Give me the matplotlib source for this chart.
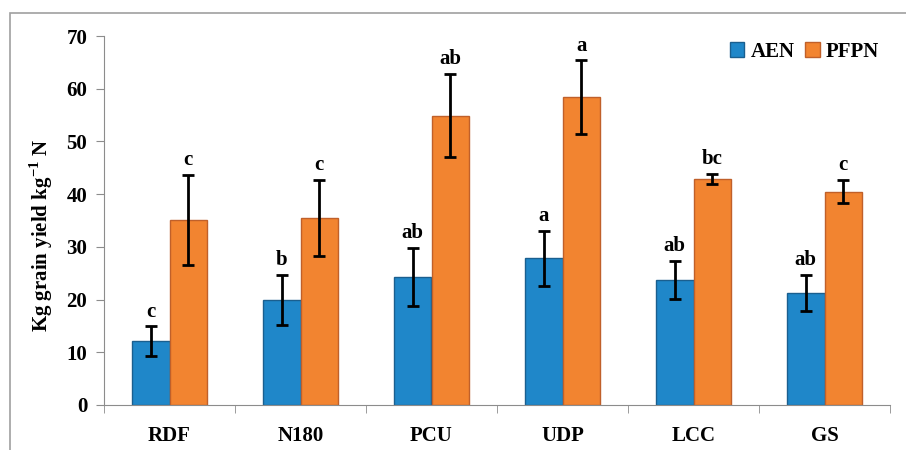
import numpy as np
import matplotlib.pyplot as plt
from matplotlib.patches import Rectangle

plt.rcParams['font.family'] = ['Liberation Serif', 'DejaVu Serif']
plt.rcParams['font.weight'] = 'bold'
plt.rcParams['mathtext.fontset'] = 'custom'
plt.rcParams['mathtext.rm'] = 'Liberation Serif:bold'
plt.rcParams['mathtext.bf'] = 'Liberation Serif:bold'

treatments = ['RDF', 'N180', 'PCU', 'UDP', 'LCC', 'GS']
aen = [12.1, 19.9, 24.3, 27.8, 23.7, 21.3]
aen_err = [2.8, 4.8, 5.5, 5.2, 3.6, 3.4]
aen_letters = ['c', 'b', 'ab', 'a', 'ab', 'ab']
pfpn = [35.1, 35.5, 54.9, 58.4, 42.9, 40.5]
pfpn_err = [8.5, 7.2, 7.9, 7.0, 1.0, 2.2]
pfpn_letters = ['c', 'c', 'ab', 'a', 'bc', 'c']

blue = '#1F87C9'
orange = '#F28430'
gray = '#8C8C8C'

fig = plt.figure(figsize=(9.06, 4.5), dpi=100)
# outer chart frame, only its left and top edges fall inside the picture
fig.patches.append(Rectangle((10/906, -0.5), 2, 1.5 - 13/450, transform=fig.transFigure,
                             fill=False, edgecolor='#A0A0A0', linewidth=1.2))
ax = fig.add_axes([104/906, 45/450, 786/906, 369/450])

x = np.arange(len(treatments))
w = 0.285
ax.bar(x - w/2, aen, w, color=blue, edgecolor='#1A5F8F', linewidth=1, label='AEN', zorder=2)
ax.bar(x + w/2, pfpn, w, color=orange, edgecolor='#C0602A', linewidth=1, label='PFPN', zorder=2)
ax.errorbar(x - w/2, aen, yerr=aen_err, fmt='none', ecolor='black', elinewidth=2,
            capsize=4.5, capthick=2, zorder=3)
ax.errorbar(x + w/2, pfpn, yerr=pfpn_err, fmt='none', ecolor='black', elinewidth=2,
            capsize=4.5, capthick=2, zorder=3)

for i in range(len(treatments)):
    ax.text(x[i] - w/2, aen[i] + aen_err[i] + 0.9, aen_letters[i], ha='center', va='bottom',
            fontsize=15, fontweight='bold')
    ax.text(x[i] + w/2, pfpn[i] + pfpn_err[i] + 0.9, pfpn_letters[i], ha='center', va='bottom',
            fontsize=15, fontweight='bold')

ax.set_xlim(-0.5, len(treatments) - 0.5)
ax.set_ylim(0, 70)
ax.set_yticks(range(0, 71, 10))
ax.set_xticks(x)
ax.set_xticklabels(treatments, fontsize=15, fontweight='bold')
ax.set_xticks(np.arange(-0.5, len(treatments)), minor=True)
ax.tick_params(axis='x', which='major', length=0, pad=15)
ax.tick_params(axis='x', which='minor', length=6, color=gray)
ax.tick_params(axis='y', length=6, color=gray, labelsize=15, pad=6)
for lab in ax.get_yticklabels():
    lab.set_fontweight('bold')
for s in ['top', 'right']:
    ax.spines[s].set_visible(False)
for s in ['left', 'bottom']:
    ax.spines[s].set_color(gray)

ax.set_ylabel('Kg grain yield kg$^{\\mathbf{-1}}$ N', fontsize=15, fontweight='bold')
ax.yaxis.set_label_coords(-0.062, 0.46)

ax.legend(loc='upper right', bbox_to_anchor=(1.01, 1.035), ncol=2, frameon=False,
          handlelength=0.7, handleheight=0.7, handletextpad=0.3, columnspacing=0.5,
          prop={'weight': 'bold', 'size': 15})

fig.savefig('out.png', dpi=100)
